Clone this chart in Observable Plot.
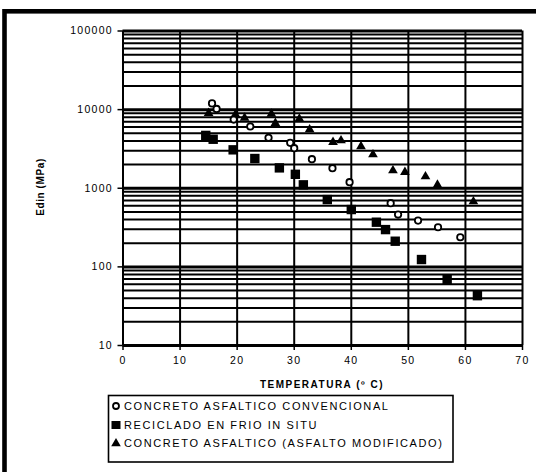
<!DOCTYPE html>
<html>
<head>
<meta charset="utf-8">
<script src="https://cdn.jsdelivr.net/npm/d3@7"></script>
<script src="https://cdn.jsdelivr.net/npm/@observablehq/plot@0.6"></script>
<style>
  html, body { margin: 0; padding: 0; background: white; }
  #chart svg { display: block; }
  #chart g[aria-label$="tick label"] text { letter-spacing: 1.3px; }
</style>
</head>
<body>
<div id="chart"></div>
<script>
// ---- data ----
const convT = [15.6, 16.4, 19.4, 22.3, 25.5, 29.3, 30.0, 33.1, 36.7, 39.7, 46.9, 48.2, 51.7, 55.2, 59.1];
const convE = [12000, 10200, 7480, 6100, 4380, 3780, 3230, 2340, 1800, 1194, 645, 463, 388, 319, 238];

const recT = [14.5, 15.8, 19.3, 23.1, 27.4, 30.2, 31.6, 35.8, 40.0, 44.4, 46.0, 47.7, 52.3, 56.8, 62.1];
const recE = [4700, 4200, 3080, 2390, 1816, 1505, 1105, 718, 536, 370, 298, 212, 124, 69, 43];

const modT = [15.0, 19.7, 21.3, 26.0, 26.7, 30.9, 32.7, 36.8, 38.2, 41.7, 43.8, 47.3, 49.4, 53.0, 55.1, 61.4];
const modE = [9000, 8660, 7860, 8840, 6720, 7640, 5580, 3850, 4050, 3400, 2685, 1680, 1600, 1410, 1105, 678];

const seriesNames = [
  "CONCRETO ASFALTICO CONVENCIONAL",
  "RECICLADO EN FRIO IN SITU",
  "CONCRETO ASFALTICO (ASFALTO MODIFICADO)"
];
const xTicks = [0, 10, 20, 30, 40, 50, 60, 70];
const yTicks = [10, 100, 1000, 10000, 100000];
const yMinorGrid = [
  20, 30, 40, 50, 60, 70, 80, 90,
  200, 300, 400, 500, 600, 700, 800, 900,
  2000, 3000, 4000, 5000, 6000, 7000, 8000, 9000,
  20000, 30000, 40000, 50000, 60000, 70000, 80000, 90000
];
const xLabel = "TEMPERATURA (º C)";
const yLabel = "Edin (MPa)";

const conv = convT.map((t, i) => ({t, e: convE[i]}));
const rec = recT.map((t, i) => ({t, e: recE[i]}));
const mod = modT.map((t, i) => ({t, e: modE[i]}));

const W = 536, H = 472;
const chart = Plot.plot({
  width: W,
  height: H,
  marginLeft: 122.5,
  marginRight: 14,
  marginTop: 30.5,
  marginBottom: 127,
  style: {fontFamily: "'Liberation Sans', Arial, sans-serif", fontSize: "10.5px", color: "black", background: "white", overflow: "visible"},
  x: {domain: [0, 70]},
  y: {type: "log", domain: [10, 100000]},
  marks: [
    Plot.ruleY(yMinorGrid, {stroke: "black", strokeWidth: 2}),
    Plot.ruleY(yTicks, {stroke: "black", strokeWidth: 3}),
    Plot.ruleX(xTicks, {stroke: "black", strokeWidth: 2}),
    Plot.axisY({ticks: yTicks, tickSize: 5, tickPadding: 5, tickFormat: d => String(d), label: null, strokeWidth: 1.5}),
    Plot.axisX({ticks: xTicks, tickSize: 5, tickPadding: 6, tickFormat: d => String(d), label: null, strokeWidth: 1.5}),
    Plot.dot(conv, {x: "t", y: "e", r: 3.2, stroke: "black", strokeWidth: 1.8, fill: "white"}),
    Plot.dot(rec, {x: "t", y: "e", symbol: "square", r: 5.3, fill: "black", stroke: "none"}),
    Plot.dot(mod, {x: "t", y: "e", symbol: "triangle", r: 3.6, fill: "black", stroke: "none"})
  ]
});

const svg = d3.select(chart);
// outer frame (cropped figure border)
svg.append("rect")
  .attr("x", 4.5).attr("y", 11.3)
  .attr("width", W + 20).attr("height", H + 20)
  .attr("fill", "none").attr("stroke", "black").attr("stroke-width", 4.6);

// axis titles
svg.append("text")
  .attr("x", 322).attr("y", 388)
  .attr("text-anchor", "middle")
  .attr("font-family", "'Liberation Sans', Arial, sans-serif")
  .attr("font-size", 10).attr("font-weight", "bold")
  .attr("letter-spacing", 1.5)
  .text(xLabel);
svg.append("text")
  .attr("transform", "translate(44,187) rotate(-90)")
  .attr("text-anchor", "middle")
  .attr("font-family", "'Liberation Sans', Arial, sans-serif")
  .attr("font-size", 10).attr("font-weight", "bold")
  .attr("letter-spacing", 0.6)
  .text(yLabel);

// legend
const lg = svg.append("g");
lg.append("rect")
  .attr("x", 108.5).attr("y", 395.5).attr("width", 344.5).attr("height", 66.5)
  .attr("fill", "white").attr("stroke", "black").attr("stroke-width", 1.6);
const rowsY = [406, 424.5, 442.5];
seriesNames.forEach((name, i) => {
  const g = lg.append("g").attr("transform", `translate(116,${rowsY[i]})`);
  if (i === 0) {
    g.append("circle").attr("r", 3).attr("fill", "white").attr("stroke", "black").attr("stroke-width", 1.8);
  } else if (i === 1) {
    g.append("rect").attr("x", -4.5).attr("y", -3.5).attr("width", 9).attr("height", 8).attr("fill", "black");
  } else {
    g.append("path").attr("d", d3.symbol(d3.symbolTriangle, 40)()).attr("transform", "translate(0,1)").attr("fill", "black");
  }
  lg.append("text")
    .attr("x", 124).attr("y", rowsY[i] + 4)
    .attr("text-anchor", "start")
    .attr("font-family", "'Liberation Sans', Arial, sans-serif")
    .attr("font-size", 11)
    .attr("letter-spacing", 1.6)
    .text(name);
});

document.getElementById("chart").appendChild(chart);
</script>
</body>
</html>
